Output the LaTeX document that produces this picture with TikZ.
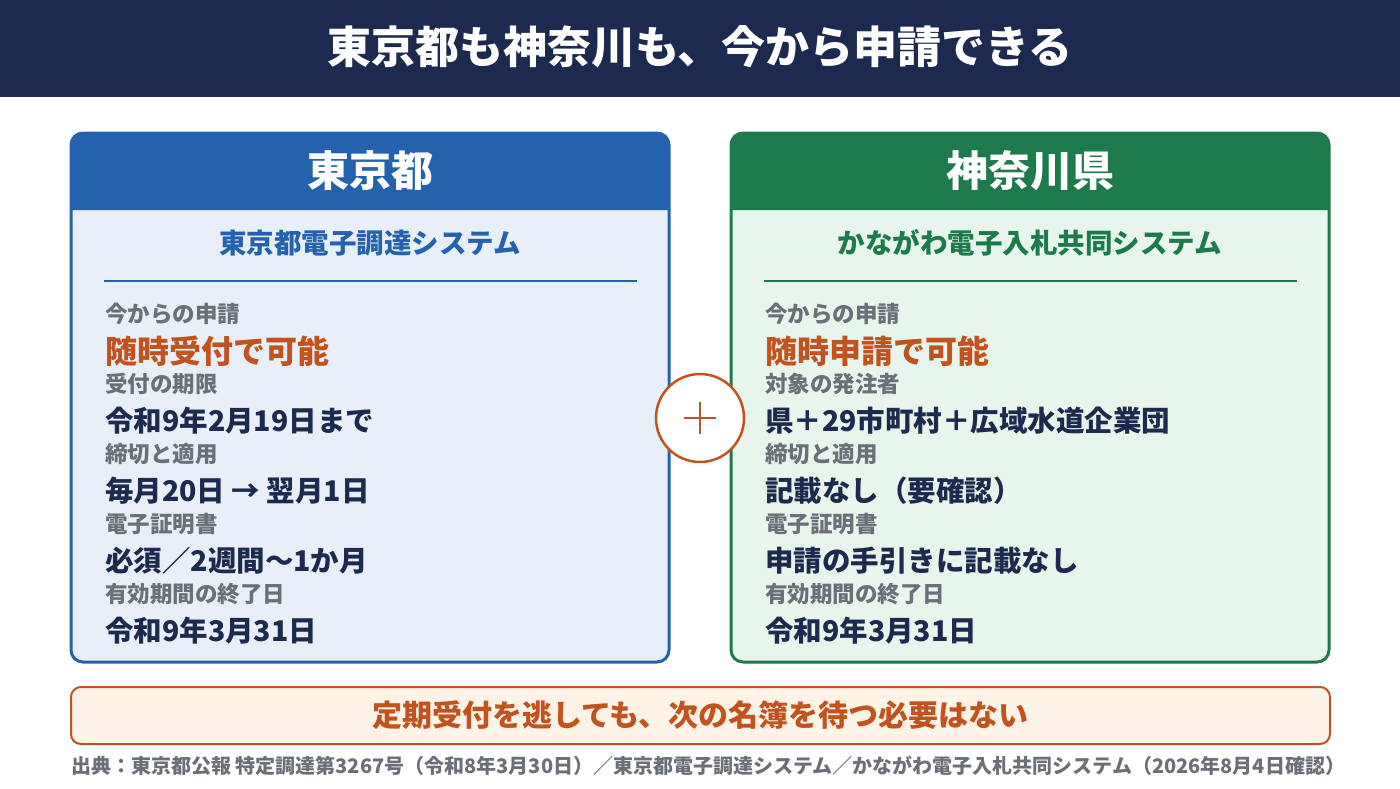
\documentclass[tikz,border=0pt]{standalone}
\usepackage{fontspec}
\setmainfont{Noto Sans CJK JP}
\definecolor{navy}{HTML}{1B2A4E}
\definecolor{tblue}{HTML}{2462AE}
\definecolor{tbluebg}{HTML}{E8EFF9}
\definecolor{kgreen}{HTML}{1D7A4A}
\definecolor{kgreenbg}{HTML}{E8F5EC}
\definecolor{accent}{HTML}{C2531F}
\definecolor{notebg}{HTML}{FDF3E6}
\definecolor{labelgray}{HTML}{6B6F78}
\definecolor{valdark}{HTML}{1B2A4E}
\tikzset{
  small label/.style={anchor=west, inner sep=0pt, text=labelgray, font=\bfseries\fontsize{22.5}{26}\selectfont},
  value/.style={anchor=west, inner sep=0pt, text=valdark, font=\bfseries\fontsize{28.5}{32}\selectfont},
  big value/.style={anchor=west, inner sep=0pt, text=accent, font=\bfseries\fontsize{32}{36}\selectfont},
  card title/.style={text=white, font=\bfseries\fontsize{42}{46}\selectfont},
  card sub/.style={font=\bfseries\fontsize{27.5}{31}\selectfont},
}
% card frame: #1 left x, #2 colour, #3 background
\newcommand\cardframe[3]{%
  \fill[#3, rounded corners=12] (#1,133) rectangle (#1+598,662);
  \fill[#2] (#1,210) [rounded corners=12] -- (#1,133) -- (#1+598,133) [sharp corners] -- (#1+598,210) -- cycle;
  \draw[#2, line width=3pt, rounded corners=12] (#1,133) rectangle (#1+598,662);
  \draw[#2, line width=1.5pt] (#1+33,281) -- (#1+566,281);
}
\begin{document}
\begin{tikzpicture}[x=1pt, y=-1pt]
\useasboundingbox (0,0) rectangle (1400,788);
\fill[white] (0,0) rectangle (1400,788);

% header
\fill[navy] (0,0) rectangle (1400,97);
\node[text=white, font=\bfseries\fontsize{44}{48}\selectfont] (title) at (700,47) {東京都も神奈川も、今から申請できる};

% cards
\cardframe{71}{tblue}{tbluebg}
\cardframe{731}{kgreen}{kgreenbg}
\node[card title] (tokyo) at (370,171) {東京都};
\node[card title] (kanagawa) at (1030,171) {神奈川県};
\node[card sub, text=tblue] (tokyosys) at (370,243) {東京都電子調達システム};
\node[card sub, text=kgreen] (kanasys) at (1030,243) {かながわ電子入札共同システム};

% left rows
\node[small label] (tl1) at (105,314) {今からの申請};
\node[big value]   (tv1) at (105,351) {随時受付で可能};
\node[small label] (tl2) at (105,384) {受付の期限};
\node[value]       (tv2) at (105,421) {令和9年2月19日まで};
\node[small label] (tl3) at (105,454) {締切と適用};
\node[value]       (tv3) at (105,491) {毎月20日 → 翌月1日};
\node[small label] (tl4) at (105,524) {電子証明書};
\node[value]       (tv4) at (105,561) {必須／2週間～1か月};
\node[small label] (tl5) at (105,594) {有効期間の終了日};
\node[value]       (tv5) at (105,631) {令和9年3月31日};

% right rows
\node[small label] (kl1) at (765,314) {今からの申請};
\node[big value]   (kv1) at (765,351) {随時申請で可能};
\node[small label] (kl2) at (765,384) {対象の発注者};
\node[value]       (kv2) at (765,421) {県＋29市町村＋広域水道企業団};
\node[small label] (kl3) at (765,454) {締切と適用};
\node[value]       (kv3) at (765,491) {記載なし（要確認）};
\node[small label] (kl4) at (765,524) {電子証明書};
\node[value]       (kv4) at (765,561) {申請の手引きに記載なし};
\node[small label] (kl5) at (765,594) {有効期間の終了日};
\node[value]       (kv5) at (765,631) {令和9年3月31日};

% plus
\node[circle, draw=accent, line width=2.5pt, fill=white, minimum size=88pt, inner sep=0pt] (plus) at (700,418) {};
\draw[accent, line width=2pt] (plus.center) ++(-16,0) -- ++(32,0);
\draw[accent, line width=2pt] (plus.center) ++(0,-16) -- ++(0,32);

% note
\node[draw=accent, line width=2pt, fill=notebg, rounded corners=10, minimum width=1259pt, minimum height=57pt,
      text=accent, font=\bfseries\fontsize{30}{34}\selectfont] (note) at (700.5,715.5) {定期受付を逃しても、次の名簿を待つ必要はない};

% source
\node[anchor=west, inner sep=0pt, text=labelgray, font=\bfseries\fontsize{20}{23}\selectfont] (source) at (71,766)
  {出典：東京都公報 特定調達第3267号（令和8年3月30日）／東京都電子調達システム／かながわ電子入札共同システム（2026年8月4日確認）};
\end{tikzpicture}
\end{document}
